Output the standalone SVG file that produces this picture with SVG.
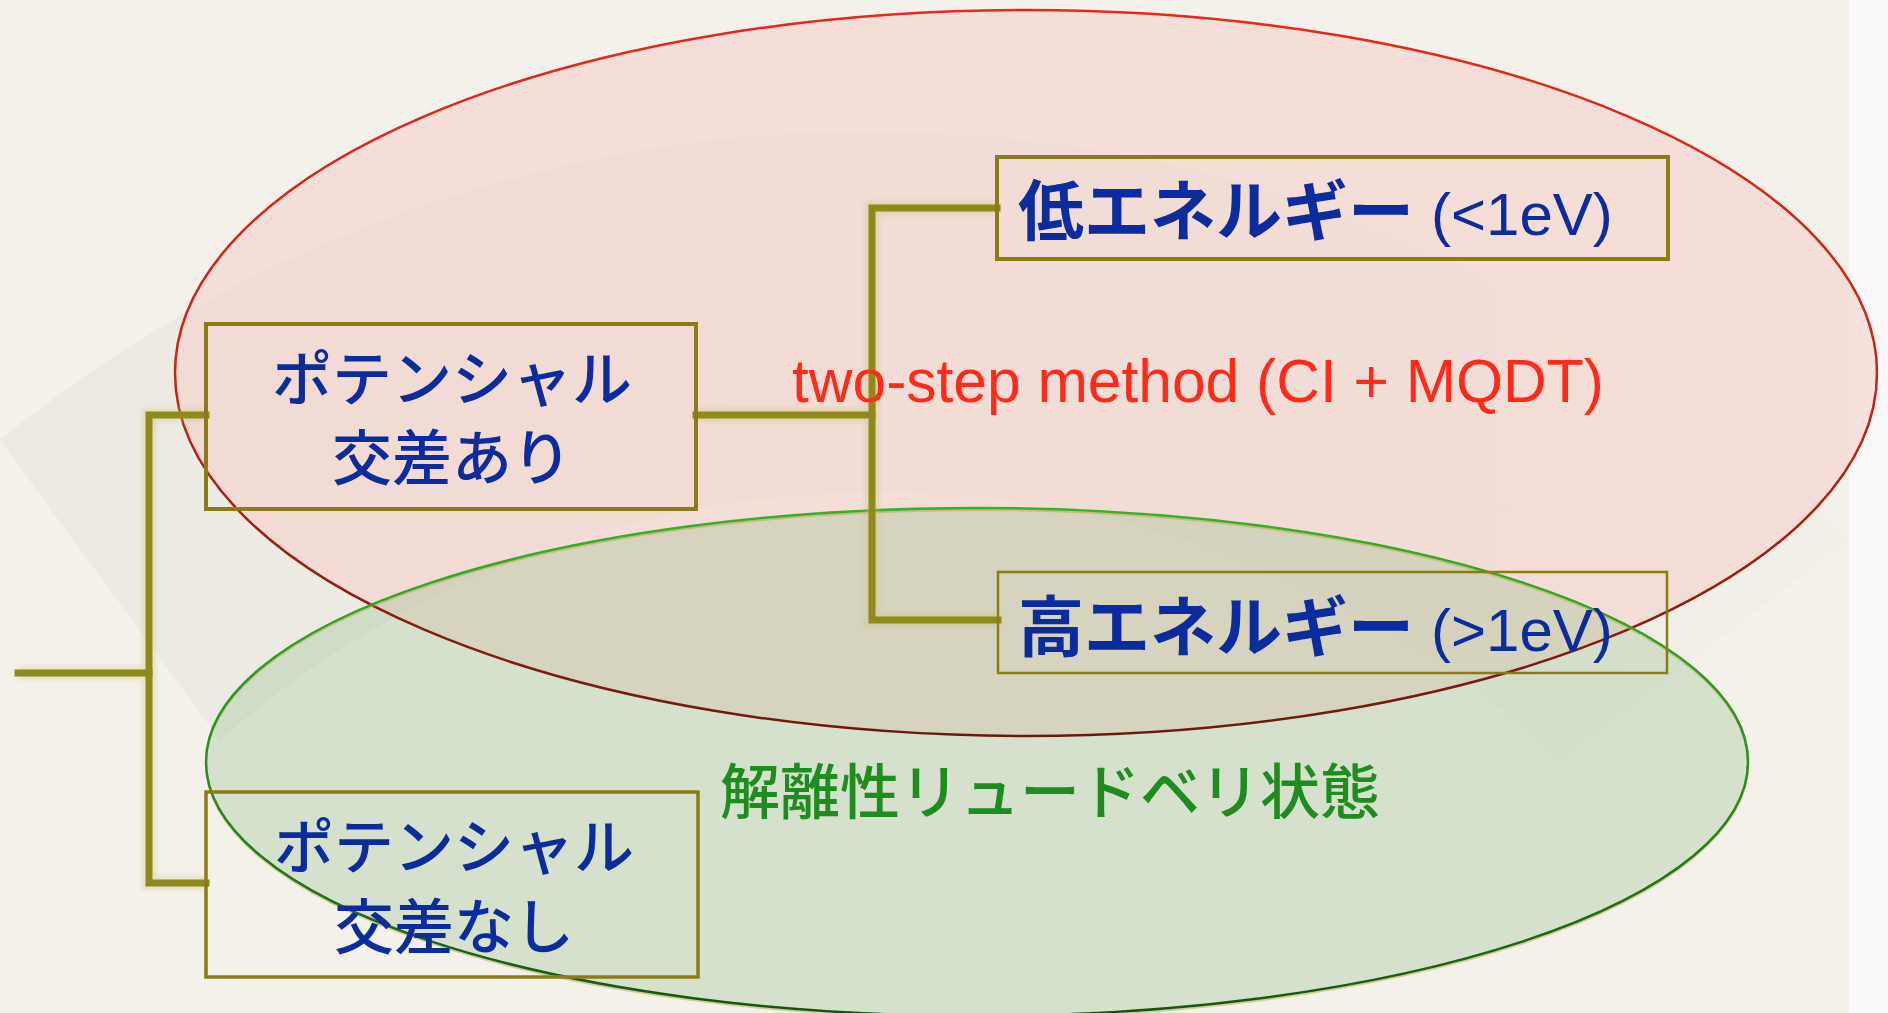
<svg xmlns="http://www.w3.org/2000/svg" width="1888" height="1013" viewBox="0 0 1888 1013">
  <style>
    .jp { font-family: "Noto Sans CJK JP", "Noto Sans", sans-serif; }
    .lat { font-family: "Liberation Sans", Arial, sans-serif; }
    .blue { fill: #0c2b9c; }
    .box { fill: none; stroke: #8a7c12; }
    .conn { fill: none; stroke: #8e8a1c; stroke-width: 7; stroke-linecap: square; stroke-linejoin: miter; }
    .connGlow { fill: none; stroke: #c8c060; stroke-width: 13; stroke-opacity: 0.35; filter: url(#blur); }
  </style>
  <defs>
    <filter id="blur" x="-10%" y="-10%" width="120%" height="120%">
      <feGaussianBlur stdDeviation="2.5"/>
    </filter>
    <linearGradient id="redStroke" x1="0" y1="0" x2="0" y2="1">
      <stop offset="0" stop-color="#e8281a"/>
      <stop offset="0.55" stop-color="#c02416"/>
      <stop offset="1" stop-color="#6a1a0c"/>
    </linearGradient>
    <linearGradient id="greenStroke" x1="0" y1="0" x2="0" y2="1">
      <stop offset="0" stop-color="#38b02a"/>
      <stop offset="0.55" stop-color="#2a8a1e"/>
      <stop offset="1" stop-color="#145410"/>
    </linearGradient>
    <linearGradient id="leftShade" x1="0" y1="0" x2="1" y2="0">
      <stop offset="0" stop-color="#8c8474" stop-opacity="0.07"/>
      <stop offset="1" stop-color="#8c8474" stop-opacity="0.02"/>
    </linearGradient>
  </defs>

  <!-- background -->
  <rect x="0" y="0" width="1888" height="1013" fill="#f4f1eb"/>
  <g id="fan">
    <path d="M 0 440 A 1380 1380 0 0 1 1850 540 L 1560 760 A 1000 1000 0 0 0 220 740 Z" fill="url(#leftShade)"/>
  </g>
  <rect x="1849" y="0" width="39" height="1013" fill="#fbfaf8"/>

  <!-- regions -->
  <g id="region-crossing">
    <ellipse cx="1026" cy="373" rx="851" ry="363" fill="#f4d2cb" fill-opacity="0.62"/>
  </g>
  <g id="region-rydberg">
    <ellipse cx="977" cy="762" rx="771" ry="254" fill="#7fb676" fill-opacity="0.26"/>
  </g>
  <g id="region-outlines">
    <ellipse cx="1026" cy="373" rx="851" ry="363" fill="none" stroke="url(#redStroke)" stroke-width="2.5"/>
    <ellipse cx="977" cy="764" rx="771" ry="254" fill="none" stroke="#b8a840" stroke-opacity="0.5" stroke-width="2"/>
    <ellipse cx="977" cy="762" rx="771" ry="254" fill="none" stroke="url(#greenStroke)" stroke-width="2.5"/>
  </g>

  <!-- connectors -->
  <g id="connectors">
    <path class="connGlow" d="M 18 673 H 149 M 206 415 H 149 V 883 H 206 M 696 415 H 872 M 997 208 H 872 V 620 H 998"/>
    <path class="conn" d="M 18 673 H 149"/>
    <path class="conn" d="M 206 415 H 149 V 883 H 206"/>
    <path class="conn" d="M 696 415 H 872"/>
    <path class="conn" d="M 997 208 H 872 V 620 H 998"/>
  </g>

  <!-- region labels -->
  <g id="label-method">
    <text class="lat" x="792" y="402" font-size="60.5" fill="#ff2a1a">two-step method (CI + MQDT)</text>
  </g>
  <g id="label-rydberg">
    <text class="jp" x="720" y="814" font-size="60" font-weight="500" fill="#1f8c1f">解離性リュードベリ状態</text>
  </g>

  <!-- nodes -->
  <g id="node-crossing">
    <rect class="box" x="206" y="324" width="490" height="185" stroke-width="4"/>
    <text class="jp blue" x="452" y="401" font-size="60" font-weight="500" text-anchor="middle">ポテンシャル</text>
    <text class="jp blue" x="452" y="480" font-size="60" font-weight="500" text-anchor="middle">交差あり</text>
  </g>
  <g id="node-nocrossing">
    <rect class="box" x="206" y="792" width="492" height="185" stroke-width="3.5"/>
    <text class="jp blue" x="454" y="869" font-size="60" font-weight="500" text-anchor="middle">ポテンシャル</text>
    <text class="jp blue" x="454" y="949" font-size="60" font-weight="500" text-anchor="middle">交差なし</text>
  </g>
  <g id="node-low">
    <rect class="box" x="997" y="157" width="671" height="102" stroke-width="4"/>
    <text class="blue" y="235"><tspan class="jp" x="1018" font-size="66" font-weight="bold">低エネルギー</tspan><tspan class="lat" x="1431" font-size="60">(&lt;1eV)</tspan></text>
  </g>
  <g id="node-high">
    <rect class="box" x="998" y="572" width="669" height="101" stroke-width="2.5"/>
    <text class="blue" y="651"><tspan class="jp" x="1018" font-size="66" font-weight="bold">高エネルギー</tspan><tspan class="lat" x="1431" font-size="60">(&gt;1eV)</tspan></text>
  </g>
</svg>
